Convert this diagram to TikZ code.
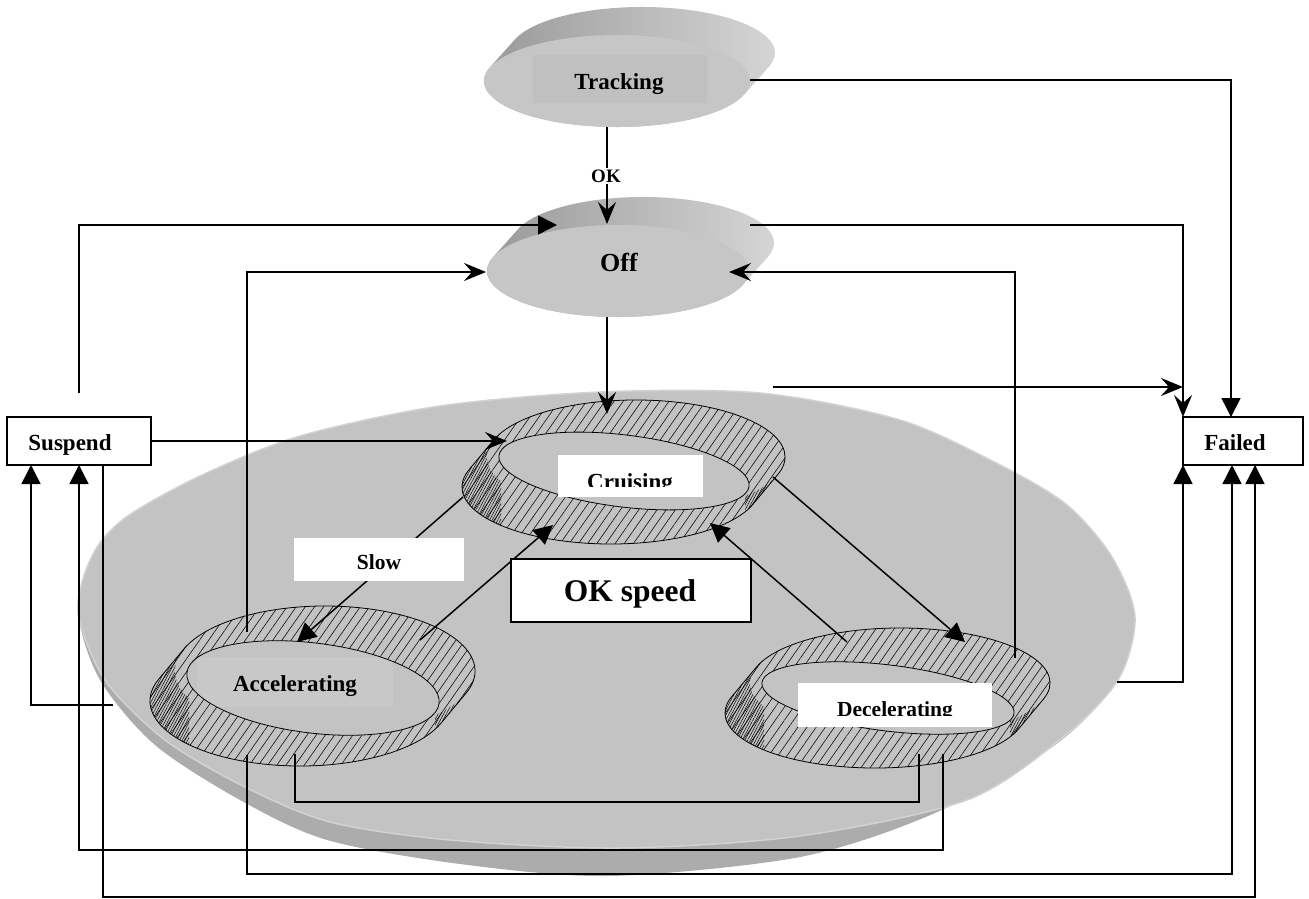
\documentclass[tikz,border=0pt]{standalone}
\usepackage{fontspec}
\setmainfont{Liberation Serif}
\usetikzlibrary{arrows.meta,patterns.meta}
\definecolor{disktop}{HTML}{C3C3C3}
\definecolor{diskside}{HTML}{ACACAC}
\definecolor{diskrim}{HTML}{D2D2D2}
\definecolor{facegray}{HTML}{C6C6C6}
\definecolor{boxgray}{HTML}{C0C0C0}
\definecolor{sidedark}{HTML}{969696}
\definecolor{sidelight}{HTML}{D8D8D8}
\definecolor{accbox}{HTML}{C8C8C8}

% 3D extruded ellipse (front face at #1,#2; back face shifted up-right)
\newcommand\extdisc[4]{%
  \pgfmathsetmacro\etz{atan((#4*25)/(#3*28))}%
  \pgfmathsetmacro\epx{#1-#3*cos(\etz)}%
  \pgfmathsetmacro\epy{#2-#4*sin(\etz)}%
  \pgfmathsetmacro\esa{\etz+180}%
  \pgfmathsetmacro\esb{\etz-180}%
  \shade[left color=sidedark,right color=sidelight]
    (\epx,\epy) arc[start angle=\esa,end angle=\etz,x radius=#3,y radius=#4]
    -- ++(25,-28) arc[start angle=\etz,end angle=\esb,x radius=#3,y radius=#4] -- cycle;
  \fill[facegray] (#1,#2) ellipse[x radius=#3,y radius=#4];
}

% hatched 3D ring: outer top face (#1,#2,#3,#4), inner hole (#5,#6,#7,#8)
\newcommand\ringstate[8]{%
  \pgfmathsetmacro\rtz{atan((#4*25)/(#3*30))}%
  \pgfmathsetmacro\rpx{#1-#3*cos(\rtz)}%
  \pgfmathsetmacro\rpy{#2-#4*sin(\rtz)}%
  \pgfmathsetmacro\rsa{\rtz+180}%
  \pgfmathsetmacro\rsb{\rtz+360}%
  \fill[disktop,postaction={pattern={Lines[angle=55,distance=7.5pt,line width=0.55pt]}}]
    (\rpx,\rpy) arc[start angle=\rsa,end angle=\rsb,x radius=#3,y radius=#4]
    -- ++(-25,30) arc[start angle=\rtz,end angle=\rsa,x radius=#3,y radius=#4] -- cycle;
  \begin{scope}
    \clip (#1-#3-30,#2-#4-5) rectangle (#1-#3+14,#2+#4+40)
          (#1+#3-40,#2-#4-5) rectangle (#1+#3+5,#2+#4+40);
    \fill[pattern={Lines[angle=62,distance=2.4pt,line width=0.5pt]}]
      (\rpx,\rpy) arc[start angle=\rsa,end angle=\rsb,x radius=#3,y radius=#4]
      -- ++(-25,30) arc[start angle=\rtz,end angle=\rsa,x radius=#3,y radius=#4] -- cycle;
  \end{scope}
  \fill[disktop,postaction={pattern={Lines[angle=55,distance=7.5pt,line width=0.55pt]}}]
    (#1,#2) ellipse[x radius=#3,y radius=#4];
  \draw[line width=0.8pt]
    (\rpx,\rpy) arc[start angle=\rsa,end angle=\rsb,x radius=#3,y radius=#4]
    -- ++(-25,30) arc[start angle=\rtz,end angle=\rsa,x radius=#3,y radius=#4] -- cycle;
  \fill[disktop,draw=black,line width=0.8pt,rotate around={-7:(#5,#6)}]
    (#5,#6) ellipse[x radius=#7,y radius=#8];
}

\begin{document}
\begin{tikzpicture}[x=1pt,y=-1pt,
  conn/.style={line width=1.5pt,draw=black},
  tri/.style={-{Triangle[length=19pt,width=19pt]}},
  barb/.style={-{Stealth[length=22pt,width=18pt,inset=8pt]}},
  txt/.style={font=\bfseries\fontsize{23}{27}\selectfont,inner sep=0pt,anchor=base},
  wbox/.style={fill=white,draw=none,inner sep=0pt},
  frame/.style={fill=white,draw=black,line width=1.5pt,inner sep=0pt}]
\useasboundingbox (0,0) rectangle (1309,899);

% ---- big disc ----
\fill[diskside] plot[smooth cycle] coordinates {(78,612) (92,556) (125,518) (200,476) (300,436) (440,406) (600,392) (760,393) (900,420) (1000,465) (1067,505) (1112,557) (1135,617) (1118,680) (1055,745) (935,813) (800,857) (610,876) (460,864) (327,840) (240,800) (155,745) (100,680)};
\fill[disktop,draw=diskrim,line width=1.5pt] plot[smooth cycle] coordinates {(78,612) (92,556) (125,518) (200,476) (300,436) (440,406) (600,392) (760,393) (900,420) (1000,465) (1067,505) (1112,557) (1135,617) (1118,680) (1062,738) (967,800) (800,836) (620,848) (450,840) (330,822) (245,787) (165,740) (105,680)};

% ---- Tracking and Off ----
\extdisc{617}{81}{133}{46}
\fill[boxgray] (533,55) rectangle (707,103);
\node[txt] (trkTxt) at (619,89) {Tracking};
\extdisc{618}{271}{131}{46}
\node[txt,font=\bfseries\fontsize{26}{30}\selectfont] (offTxt) at (619,271) {Off};

% ---- rings ----
\ringstate{636}{457}{149}{57}{624}{471}{126}{36}
\ringstate{325}{671}{150}{65}{313}{688}{127}{45}
\ringstate{900}{683}{150}{55}{888}{698}{127}{33}

% ---- connection points ----
\coordinate (trkB) at (607,127);
\coordinate (offT) at (607,224);
\coordinate (offB) at (607,317);
\coordinate (cruT) at (607,414);
\coordinate (trkR) at (750,80);
\coordinate (offBR) at (750,225);
\coordinate (offBL) at (557,225);
\coordinate (offL) at (486,272);
\coordinate (offR) at (729,272);
\coordinate (susTop) at (79,393);
\coordinate (accUp) at (247,632);
\coordinate (decUp) at (1015,658);
\coordinate (freeL) at (773,387);
\coordinate (freeR) at (1183,387);
\coordinate (susR) at (151,441);
\coordinate (cruL) at (507,441);
\coordinate (cruSW) at (463,497);
\coordinate (accTip) at (297,642);
\coordinate (accNE) at (420,640);
\coordinate (cruS1) at (553,525);
\coordinate (decNW) at (847,642);
\coordinate (cruS2) at (710,523);
\coordinate (cruE) at (773,477);
\coordinate (decTip) at (965,642);
\coordinate (accB1) at (295,754);
\coordinate (decB1) at (919,754);
\coordinate (accB2) at (247,755);
\coordinate (decB2) at (943,754);
\coordinate (accW) at (113,705);
\coordinate (diskE) at (1117,682);
\coordinate (failTL) at (1183,417);
\coordinate (failT2) at (1231,417);
\coordinate (failBL) at (1183,465);
\coordinate (failB2) at (1232,465);
\coordinate (failB3) at (1255,465);
\coordinate (susB1) at (31,465);
\coordinate (susB2) at (79,465);
\coordinate (susB3) at (103,465);

% ---- connectors ----
\draw[conn,barb] (trkB) -- (offT);
\node[fill=white,inner sep=2pt,font=\bfseries\fontsize{19}{22}\selectfont] (okLbl) at (606,176) {OK};
\draw[conn,tri] (susTop) |- (offBL);
\draw[conn,barb] (accUp) |- (offL);
\draw[conn,barb] (decUp) |- (offR);
\draw[conn,barb] (offBR) -| (failTL);
\draw[conn,tri] (trkR) -| (failT2);
\draw[conn,barb] (offB) -- (cruT);
\draw[conn,barb] (freeL) -- (freeR);
\draw[conn,barb] (susR) -- (cruL);
\draw[conn,tri] (cruSW) -- (accTip);
\draw[conn,tri] (accNE) -- (cruS1);
\draw[conn,tri] (decNW) -- (cruS2);
\draw[conn,tri] (cruE) -- (decTip);
\draw[conn] (accB1) -- ++(0,48) -| (decB1);
\draw[conn,tri] (accB2) -- ++(0,119) -| (failB2);
\draw[conn,tri] (decB2) -- ++(0,96) -| (susB2);
\draw[conn,tri] (susB3) -- ++(0,432) -| (failB3);
\draw[conn,tri] (accW) -| (susB1);
\draw[conn,tri] (diskE) -| (failBL);

% ---- boxes and labels ----
\node[frame,minimum width=144pt,minimum height=48pt] (suspend) at (79,441) {};
\node[txt] (susTxt) at (70,450) {Suspend};
\node[frame,minimum width=120pt,minimum height=48pt] (failed) at (1243,441) {};
\node[txt] (failTxt) at (1235,450) {Failed};

\node[wbox,minimum width=145pt,minimum height=42pt] (cruBox) at (630.5,476) {};
\begin{scope}
  \clip (550,440) rectangle (710,486);
  \node[txt] (cruTxt) at (630,489) {Cruising};
\end{scope}

\begin{scope}
  \clip[rotate around={-7:(313,688)}] (313,688) ellipse[x radius=126,y radius=44];
  \node[fill=accbox,inner sep=0pt,minimum width=196pt,minimum height=50pt] (accBox) at (295,682) {};
\end{scope}
\node[txt] (accTxt) at (295,691) {Accelerating};

\node[wbox,minimum width=194pt,minimum height=44pt] (decBox) at (895,705) {};
\begin{scope}
  \clip (790,690) rectangle (1000,715);
  \node[txt,font=\bfseries\fontsize{21.5}{25}\selectfont] (decTxt) at (895,716) {Decelerating};
\end{scope}

\node[wbox,minimum width=170pt,minimum height=43pt] (slowBox) at (379,559.5) {};
\node[txt,font=\bfseries\fontsize{21.5}{25}\selectfont] (slowTxt) at (379,569) {Slow};

\node[frame,minimum width=240pt,minimum height=63pt] (okBox) at (631,590.5) {};
\node[txt,font=\bfseries\fontsize{31.5}{36}\selectfont] (okTxt) at (630,601) {OK speed};
\end{tikzpicture}
\end{document}
